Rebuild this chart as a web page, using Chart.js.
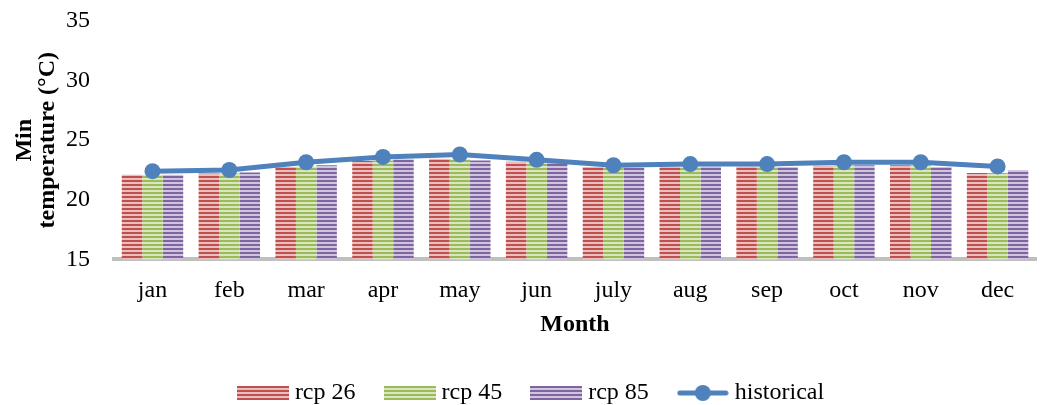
<!DOCTYPE html>
<html>
<head>
<meta charset="utf-8">
<script src="https://cdn.jsdelivr.net/npm/chart.js@4.4.0/dist/chart.umd.min.js"></script>
<style>
  html, body { margin: 0; padding: 0; background: #fff; }
  #wrap { width: 1044px; height: 405px; }
</style>
</head>
<body>
<div id="wrap"><canvas id="minTemp"></canvas></div>
<script>
// data
const months = ['jan', 'feb', 'mar', 'apr', 'may', 'jun', 'july', 'aug', 'sep', 'oct', 'nov', 'dec']
const rcp26 = [22.1, 22.2, 22.75, 23.25, 23.45, 23.2, 22.75, 22.8, 22.8, 22.85, 22.9, 22.25]
const rcp45 = [22.1, 22.2, 22.8, 23.3, 23.4, 23.2, 22.75, 22.8, 22.8, 22.9, 22.9, 22.25]
const rcp85 = [22.1, 22.3, 22.9, 23.4, 23.3, 23.1, 22.7, 22.8, 22.75, 22.9, 22.75, 22.5]
const historical = [22.4, 22.5, 23.15, 23.6, 23.8, 23.35, 22.9, 23.0, 23.0, 23.15, 23.15, 22.8]
const yTicks = [15, 20, 25, 30, 35]

const FONT = "'Liberation Serif', 'Times New Roman', serif"

//Stripe patterns for bars
function stripes(dark, light) {
  let c = document.createElement('canvas')
  c.width = 4
  c.height = 4
  let g = c.getContext('2d')
  g.fillStyle = light
  g.fillRect(0, 0, 4, 4)
  g.fillStyle = dark
  g.fillRect(0, 0, 4, 2)
  return g.createPattern(c, 'repeat')
}

//Legend swatches
function barSwatch(dark, light) {
  let c = document.createElement('canvas')
  c.width = 52
  c.height = 14
  let g = c.getContext('2d')
  g.fillStyle = light
  g.fillRect(0, 0, 52, 14)
  g.fillStyle = dark
  for (let y = 0; y < 14; y += 4) g.fillRect(0, y, 52, 2)
  return c
}

function lineSwatch(color) {
  let c = document.createElement('canvas')
  c.width = 52
  c.height = 18
  let g = c.getContext('2d')
  g.strokeStyle = color
  g.lineWidth = 5
  g.lineCap = 'round'
  g.beginPath()
  g.moveTo(3, 9)
  g.lineTo(49, 9)
  g.stroke()
  g.fillStyle = color
  g.beginPath()
  g.arc(26, 9, 8, 0, Math.PI * 2)
  g.fill()
  return c
}

const red = ['#C0504D', '#E8BFBE']
const green = ['#9BBB59', '#D9E6C0']
const purple = ['#8064A2', '#CFC4DD']
const blue = '#4F81BD'

const swatches = [barSwatch(...red), barSwatch(...green), barSwatch(...purple), lineSwatch(blue)]

//nudge the legend a bit to the right, like the original
const legendShift = {
  id: 'legendShift',
  afterLayout(chart) {
    chart.legend.left += 7
    chart.legend.right += 7
  }
}

const ctx = document.getElementById('minTemp').getContext('2d')

new Chart(ctx, {
  type: 'bar',
  data: {
    labels: months,
    datasets: [{
      label: 'rcp 26',
      data: rcp26,
      backgroundColor: stripes(...red),
      borderWidth: 0,
      order: 1
    }, {
      label: 'rcp 45',
      data: rcp45,
      backgroundColor: stripes(...green),
      borderWidth: 0,
      order: 1
    }, {
      label: 'rcp 85',
      data: rcp85,
      backgroundColor: stripes(...purple),
      borderWidth: 0,
      order: 1
    }, {
      type: 'line',
      label: 'historical',
      data: historical,
      borderColor: blue,
      backgroundColor: blue,
      borderWidth: 5,
      pointRadius: 8,
      pointHoverRadius: 8,
      pointBorderWidth: 0,
      tension: 0,
      order: 0
    }]
  },
  options: {
    responsive: true,
    maintainAspectRatio: false,
    animation: false,
    layout: { padding: { top: 0, right: 4, left: 13, bottom: -10 } },
    datasets: {
      bar: { categoryPercentage: 0.8, barPercentage: 1.0 }
    },
    scales: {
      x: {
        grid: { display: false },
        border: { display: true, color: '#BFBFBF', width: 4 },
        ticks: { color: '#000', font: { family: FONT, size: 24 }, padding: 9 },
        title: {
          display: true,
          text: 'Month',
          color: '#000',
          font: { family: FONT, size: 24, weight: 'bold' },
          padding: { top: -4, bottom: 8 }
        }
      },
      y: {
        min: 15,
        max: 35,
        afterBuildTicks: axis => { axis.ticks = yTicks.map(v => ({ value: v })) },
        afterFit: axis => { axis.paddingTop = 21 },
        grid: { display: false },
        border: { display: false },
        ticks: { color: '#000', font: { family: FONT, size: 24, lineHeight: 1.0 }, padding: 16 },
        title: {
          display: true,
          text: ['Min', 'temperature (°C)'],
          color: '#000',
          font: { family: FONT, size: 24, weight: 'bold', lineHeight: 0.96 },
          padding: { top: 0, bottom: -9 }
        }
      }
    },
    plugins: {
      tooltip: { enabled: false },
      legend: {
        position: 'bottom',
        labels: {
          color: '#000',
          font: { family: FONT, size: 24 },
          usePointStyle: true,
          pointStyleWidth: 40,
          padding: 34,
          generateLabels: chart => chart.data.datasets.map((ds, i) => ({
            text: ds.label,
            pointStyle: swatches[i],
            fillStyle: 'transparent',
            strokeStyle: 'transparent',
            lineWidth: 0,
            hidden: false,
            datasetIndex: i
          }))
        }
      }
    }
  },
  plugins: [legendShift]
})
</script>
</body>
</html>
